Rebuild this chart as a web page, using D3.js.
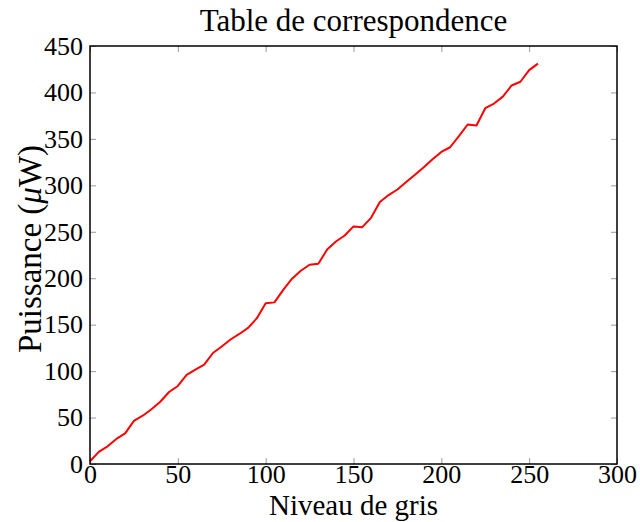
<!DOCTYPE html>
<html>
<head>
<meta charset="utf-8">
<script src="https://cdn.jsdelivr.net/npm/d3@7"></script>
<style>
  body { margin: 0; background: #fff; }
  svg text { font-family: "Liberation Serif", "DejaVu Serif", "Times New Roman", serif; fill: #000; }
</style>
</head>
<body>
<svg id="canvas" width="640" height="522"></svg>
<script>
// Grey levels (x) and measured power in µW (y)
const niveaux = d3.range(0, 256, 5);
const puissance = [
  3, 13, 19, 27, 33, 46.5, 52, 59, 67, 77.5,
  84, 96, 101.5, 107, 119.5, 126.5, 134, 140, 146.5, 157,
  173, 174, 187.5, 199.5, 208, 214.5, 215.5, 231, 239.5, 246,
  255.8, 255, 265, 282, 289.5, 295.5, 303.5, 311.5, 319.5, 328,
  336, 341, 353, 365.5, 364.5, 383, 388, 395.5, 407.5, 411.5,
  424, 431
];
const xTicks = [0, 50, 100, 150, 200, 250, 300];
const yTicks = [0, 50, 100, 150, 200, 250, 300, 350, 400, 450];

const serif = '"Liberation Serif", "DejaVu Serif", "Times New Roman", serif';

const svg = d3.select("#canvas");
const margin = { left: 90, right: 23, top: 46, bottom: 58 };
const width = 640 - margin.left - margin.right;
const height = 522 - margin.top - margin.bottom;

const x = d3.scaleLinear().domain([0, 300]).range([0, width]);
const y = d3.scaleLinear().domain([0, 450]).range([height, 0]);

const g = svg.append("g").attr("transform", `translate(${margin.left},${margin.top})`);

// inner ticks on all four sides
const tickLen = 6;
const drawTicks = (axis, transform) => {
  const a = g.append("g").attr("transform", transform).call(axis);
  a.attr("font-family", null);
  a.select(".domain").remove();
  a.selectAll("line").attr("stroke", "#999").attr("stroke-width", 1);
  return a;
};

const bottom = drawTicks(
  d3.axisBottom(x).tickValues(xTicks).tickSize(-tickLen).tickPadding(1),
  `translate(0,${height})`
);
bottom.selectAll("text").attr("font-size", 26).style("font-family", serif);
drawTicks(d3.axisTop(x).tickValues(xTicks).tickSize(-tickLen).tickFormat(""), "translate(0,0)");

const left = drawTicks(
  d3.axisLeft(y).tickValues(yTicks).tickSize(-tickLen).tickPadding(7),
  "translate(0,0)"
);
left.selectAll("text").attr("font-size", 26).style("font-family", serif);
drawTicks(d3.axisRight(y).tickValues(yTicks).tickSize(-tickLen).tickFormat(""), `translate(${width},0)`);

// the line
const data = niveaux.map((n, i) => [n, puissance[i]]);
g.append("path")
  .datum(data)
  .attr("fill", "none")
  .attr("stroke", "#ff0000")
  .attr("stroke-width", 2)
  .attr("stroke-linejoin", "round")
  .attr("d", d3.line().x((d) => x(d[0])).y((d) => y(d[1])));

// box
g.append("rect")
  .attr("width", width)
  .attr("height", height)
  .attr("fill", "none")
  .attr("stroke", "#000")
  .attr("stroke-width", 1.5);

// title and labels
svg.append("text")
  .attr("x", margin.left + width / 2)
  .attr("y", 31)
  .attr("text-anchor", "middle")
  .attr("font-size", 31)
  .style("font-family", serif)
  .text("Table de correspondence");

svg.append("text")
  .attr("x", margin.left + width / 2)
  .attr("y", 515)
  .attr("text-anchor", "middle")
  .attr("font-size", 29)
  .style("font-family", serif)
  .text("Niveau de gris");

const yl = svg.append("text")
  .attr("transform", `translate(41,249) rotate(-90)`)
  .attr("text-anchor", "middle")
  .attr("font-size", 33)
  .style("font-family", serif);
yl.append("tspan").text("Puissance (");
yl.append("tspan").attr("font-style", "italic").text("μ");
yl.append("tspan").text("W)");
</script>
</body>
</html>
